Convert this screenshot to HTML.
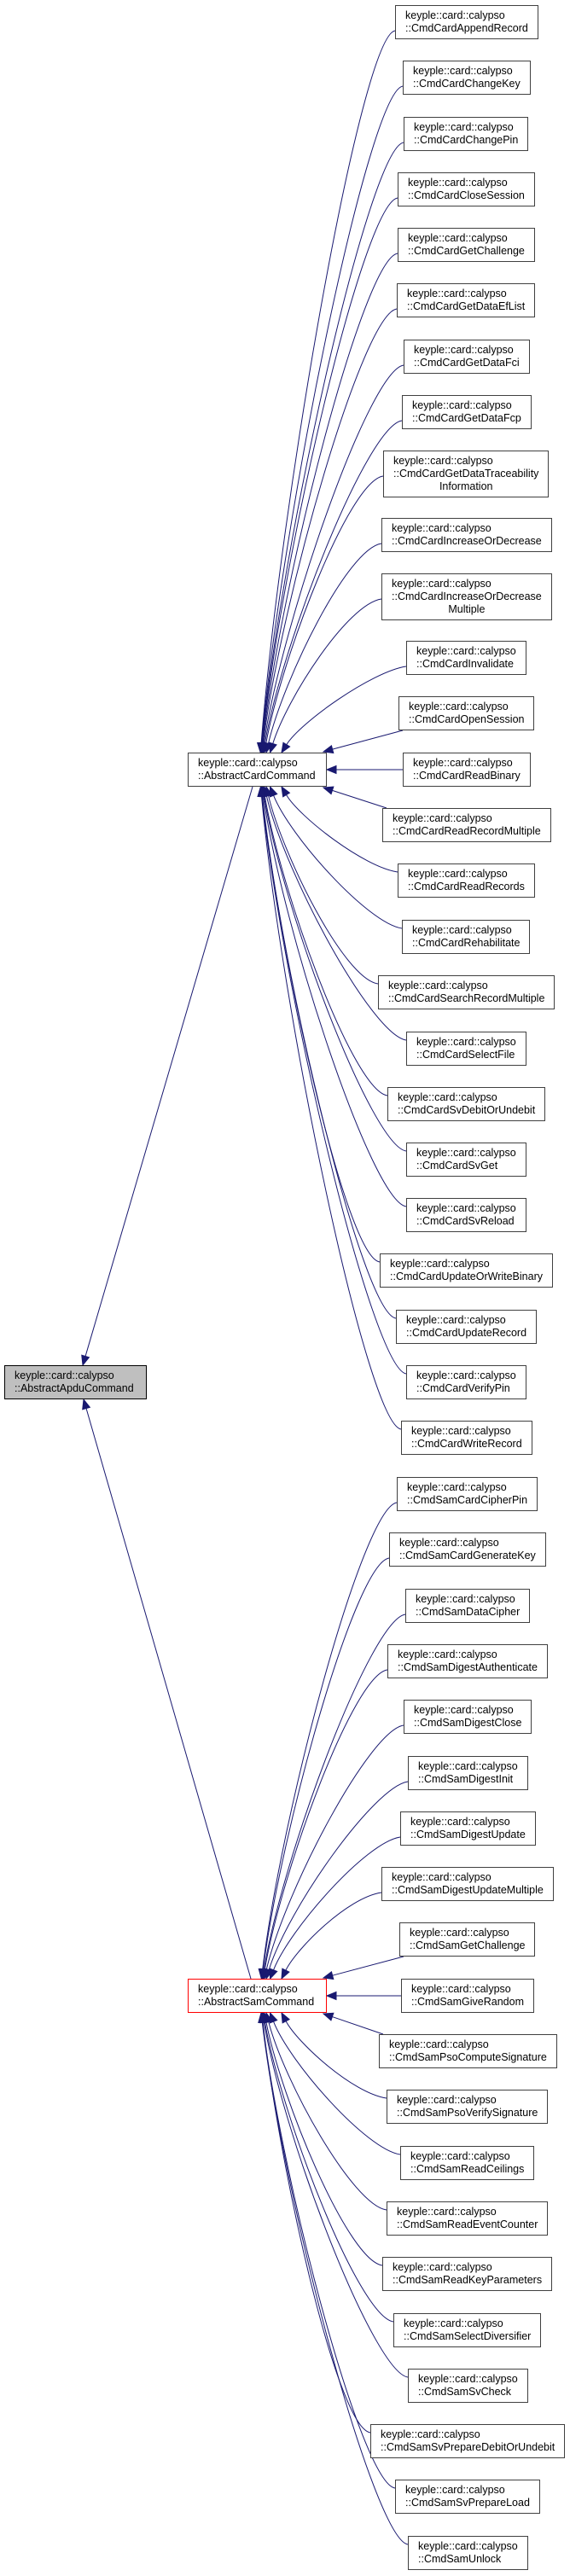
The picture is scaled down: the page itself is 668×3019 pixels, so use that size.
<!DOCTYPE html>
<html><head><meta charset="utf-8">
<style>
html,body{margin:0;padding:0;background:#fff;}
body{width:668px;height:3019px;position:relative;overflow:hidden;font-family:"Liberation Sans",Arial,sans-serif;}
.n{position:absolute;box-sizing:border-box;border:1px solid #404040;background:#fff;padding:4px 11px 0 11px;font-size:12.5px;line-height:15px;color:#000;white-space:nowrap;}
.n div.c{text-align:center;}
svg{position:absolute;left:0;top:0;}
</style></head><body>
<svg id="s" width="668" height="3019"></svg>
<div id="wrap"></div>
<script>
const W=document.getElementById('wrap');
function mk(cx,top,lines,extra,fixedLeft,fixedW){
  const d=document.createElement('div');d.className='n';
  lines.forEach((t,i)=>{const e=document.createElement('div');e.textContent=t;if(i==2)e.className='c';d.appendChild(e);});
  d.style.top=top+'px';d.style.height=(lines.length==3?55:40)+'px';
  if(extra)Object.assign(d.style,extra);
  W.appendChild(d);
  if(fixedLeft!==undefined){d.style.left=fixedLeft+'px';d.style.width=fixedW+'px';}
  else{const w=d.getBoundingClientRect().width;d.style.left=Math.round(cx-w/2)+'px';}
  const r=d.getBoundingClientRect();
  return {l:r.left,r:r.right,t:r.top,b:r.bottom,cy:(r.top+r.bottom)/2};
}
const K='keyple::card::calypso';
const cards=[["AppendRecord",6],["ChangeKey",71],["ChangePin",137],["CloseSession",202],["GetChallenge",267],["GetDataEfList",332],["GetDataFci",398],["GetDataFcp",463],["GetDataTraceability",528,"Information"],["IncreaseOrDecrease",607],["IncreaseOrDecrease",672,"Multiple"],["Invalidate",751],["OpenSession",816],["ReadBinary",882],["ReadRecordMultiple",947],["ReadRecords",1012],["Rehabilitate",1078],["SearchRecordMultiple",1143],["SelectFile",1209],["SvDebitOrUndebit",1274],["SvGet",1339],["SvReload",1404],["UpdateOrWriteBinary",1469],["UpdateRecord",1535],["VerifyPin",1600],["WriteRecord",1665]];
const sams=["CardCipherPin","CardGenerateKey","DataCipher","DigestAuthenticate","DigestClose","DigestInit","DigestUpdate","DigestUpdateMultiple","GetChallenge","GiveRandom","PsoComputeSignature","PsoVerifySignature","ReadCeilings","ReadEventCounter","ReadKeyParameters","SelectDiversifier","SvCheck","SvPrepareDebitOrUndebit","SvPrepareLoad","Unlock"];
const apdu=mk(0,1600,[K,'::AbstractApduCommand'],{background:'#bfbfbf',borderColor:'#000'},5,167);
const acc=mk(0,882,[K,'::AbstractCardCommand'],null,220,163);
const asc=mk(0,2319,[K,'::AbstractSamCommand'],{borderColor:'#ff0000'},220,163);
const S=document.getElementById('s');const NS='http://www.w3.org/2000/svg';
const COL='#191970';
function path(d){const p=document.createElementNS(NS,'path');p.setAttribute('d',d);p.setAttribute('fill','none');p.setAttribute('stroke',COL);p.setAttribute('stroke-width','1');S.appendChild(p);}
function arrow(tx,ty,fx,fy){ // tip at tx,ty, coming from fx,fy; returns base
  let dx=tx-fx,dy=ty-fy;const L=Math.hypot(dx,dy);dx/=L;dy/=L;
  const bx=tx-dx*11,by=ty-dy*11,px=-dy*4.5,py=dx*4.5;
  const p=document.createElementNS(NS,'polygon');
  p.setAttribute('points',`${tx},${ty} ${bx+px},${by+py} ${bx-px},${by-py}`);
  p.setAttribute('fill',COL);p.setAttribute('stroke',COL);S.appendChild(p);
  return [bx,by];
}
function edges(P,kids){
  const idx=kids.findIndex(c=>Math.abs(c.cy-P.cy)<8);
  kids.forEach((c,i)=>{
    const d=Math.abs(i-idx);
    if(d==0){const b=arrow(P.r,P.cy,c.l,c.cy);path(`M${c.l},${c.cy} L${b[0]},${b[1]}`);return;}
    const above=i<idx;
    if(d==1){
      const sx=c.l+5,sy=above?c.b:c.t,tx=P.r-4,ty=above?P.t-1:P.b+1;
      const b=arrow(tx,ty,sx,sy);path(`M${sx},${sy} L${b[0]},${b[1]}`);return;
    }
    const tx=303+27/(d-1);
    if(above){
      const x0=c.l,y0=c.t+30,ty=P.t;
      const p1=[x0-40,y0+6],p2=[tx+0.15*(x0-tx),ty-0.35*(ty-y0)];
      const b=arrow(tx,ty,p2[0],p2[1]);
      path(`M${x0},${y0} C${p1[0]},${p1[1]} ${p2[0]},${p2[1]} ${b[0]},${b[1]}`);
    }else{
      const x0=c.l,y0=c.t+10,ty=P.b;
      const p1=[x0-40,y0-6],p2=[tx+0.15*(x0-tx),ty+0.35*(y0-ty)];
      const b=arrow(tx,ty,p2[0],p2[1]);
      path(`M${x0},${y0} C${p1[0]},${p1[1]} ${p2[0]},${p2[1]} ${b[0]},${b[1]}`);
    }
  });
}
const ck=cards.map(c=>mk(546.5,c[1],c[2]?[K,'::CmdCard'+c[0],c[2]]:[K,'::CmdCard'+c[0]]));
const sk=sams.map((s,i)=>mk(548,1731+Math.round(i*65.3),[K,'::CmdSam'+s]));
edges(acc,ck);edges(asc,sk);
// apdu edges
let b=arrow(97,apdu.t,296,acc.b);path(`M296,${acc.b} L${b[0]},${b[1]}`);
b=arrow(98,apdu.b,294,asc.t);path(`M294,${asc.t} L${b[0]},${b[1]}`);
</script>
</body></html>
